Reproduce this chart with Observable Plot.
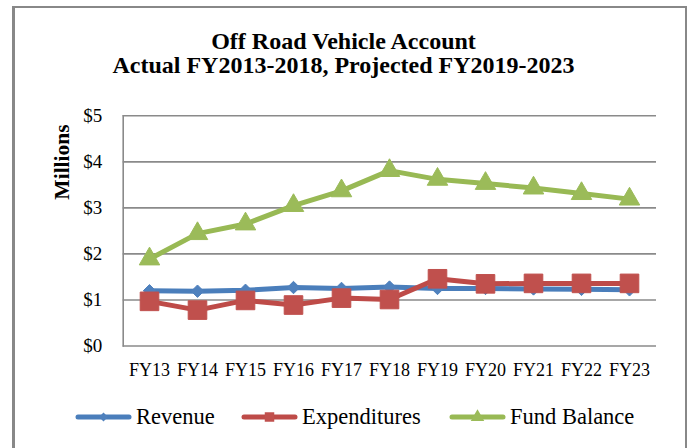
<!DOCTYPE html>
<html>
<head>
<meta charset="utf-8">
<script src="https://cdn.jsdelivr.net/npm/d3@7"></script>
<script src="https://cdn.jsdelivr.net/npm/@observablehq/plot@0.6"></script>
<style>
  html, body { margin: 0; padding: 0; background: #fff; }
  body { width: 687px; height: 448px; position: relative; overflow: hidden; font-family: "Liberation Serif", serif; }
  #frame { position: absolute; left: 12px; top: 6px; width: 670px; height: 470px; border-left: 3px solid #888; border-top: 2px solid #888; border-right: 3px solid #888; }
  #title { position: absolute; left: 0; top: 29px; width: 687px; line-height: 24.3px; text-align: center; font-family: "Liberation Serif", serif; font-weight: bold; font-size: 24px; color: #000; white-space: nowrap; }
  #ylab { position: absolute; left: 62px; top: 162px; transform: translate(-50%, -50%) rotate(-90deg); font-family: "Liberation Serif", serif; font-weight: bold; font-size: 21.5px; line-height: 22px; white-space: nowrap; }
  #chart { position: absolute; left: 0; top: 90px; }
  .leg { position: absolute; top: 404px; height: 26px; display: flex; align-items: center; font-family: "Liberation Serif", serif; font-size: 22.5px; color: #000; white-space: nowrap; }
  .leg span { font-family: "Liberation Serif", serif; }
  .leg svg { margin-right: 4px; }
</style>
</head>
<body>
<div id="frame"></div>
<div id="title">Off Road Vehicle Account<br>Actual FY2013-2018, Projected FY2019-2023</div>
<div id="ylab">Millions</div>
<div id="chart"></div>
<div id="legend"></div>
<script>
const years = ["FY13","FY14","FY15","FY16","FY17","FY18","FY19","FY20","FY21","FY22","FY23"];
const revenue = [1.20, 1.19, 1.21, 1.27, 1.25, 1.28, 1.25, 1.25, 1.24, 1.23, 1.22];
const expenditures = [0.97, 0.78, 0.99, 0.89, 1.04, 1.01, 1.46, 1.35, 1.36, 1.36, 1.36];
const fundBalance = [1.89, 2.44, 2.65, 3.05, 3.37, 3.81, 3.62, 3.53, 3.43, 3.31, 3.19];
const yTicks = [0, 1, 2, 3, 4, 5];

const seriesNames = ["Revenue", "Expenditures", "Fund Balance"];
const seriesValues = [revenue, expenditures, fundBalance];
const lineColors = ["#4A7EBB", "#BE4B48", "#98B954"];
const markerColors = ["#4F81BD", "#C0504D", "#9BBB59"];
const symbols = ["diamond2", "square", "triangle"];
const radii = [5.6, 10.5, 7.6];

const data = seriesNames.flatMap((s, i) => years.map((y, j) => ({series: s, year: y, value: seriesValues[i][j]})));

const marks = [
  Plot.ruleY(yTicks, {stroke: "#8a8a8a", strokeWidth: 1.6}),
  Plot.axisY({ticks: yTicks, tickFormat: d => "$" + d, tickSize: 0, tickPadding: 21, fontSize: 19, fill: "#000"}),
  Plot.axisX({tickSize: 0, tickPadding: 17, fontSize: 18, fill: "#000"}),
  Plot.frame({anchor: "left", stroke: "#8a8a8a", strokeWidth: 1.6})
];
seriesNames.forEach((s, i) => {
  const d = data.filter(r => r.series === s);
  marks.push(Plot.line(d, {x: "year", y: "value", stroke: lineColors[i], strokeWidth: 5, strokeLinejoin: "round", strokeLinecap: "round"}));
  marks.push(Plot.dot(d, {x: "year", y: "value", symbol: symbols[i], r: radii[i], fill: markerColors[i], stroke: markerColors[i], strokeWidth: 1, strokeLinejoin: "round"}));
});

const chart = Plot.plot({
  width: 687,
  height: 300,
  marginTop: 25.3,
  marginBottom: 44.5,
  marginLeft: 122.7,
  marginRight: 31,
  style: {fontFamily: "Liberation Serif, serif", background: "transparent", overflow: "visible"},
  x: {type: "point", domain: years, padding: 0.5, label: null},
  y: {domain: [0, 5], label: null},
  marks
});
document.getElementById("chart").appendChild(chart);

// Legend
const legendLeft = [75, 241, 449];
const legend = document.getElementById("legend");
seriesNames.forEach((s, i) => {
  const item = document.createElement("div");
  item.className = "leg";
  item.style.left = legendLeft[i] + "px";
  const sym = d3.symbol().type([d3.symbolDiamond2, d3.symbolSquare, d3.symbolTriangle][i]).size([50, 90, 80][i])();
  item.innerHTML = `<svg width="57" height="20" viewBox="0 0 57 20">
      <line x1="3" y1="10" x2="54" y2="10" stroke="${lineColors[i]}" stroke-width="5" stroke-linecap="round"/>
      <path d="${sym}" transform="translate(28.5,10)" fill="${markerColors[i]}"/>
    </svg><span>${s}</span>`;
  legend.appendChild(item);
});
</script>
</body>
</html>
